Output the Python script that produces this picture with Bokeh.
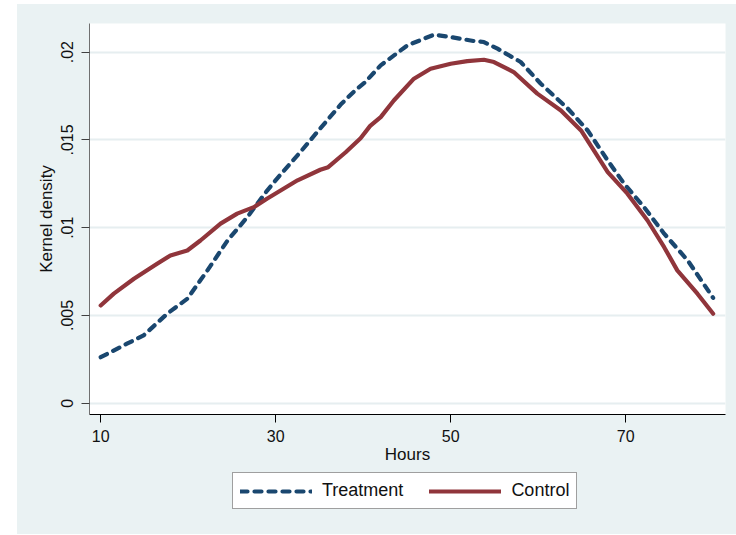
from bokeh.plotting import figure
from bokeh.models import Legend, LegendItem, Range1d, FixedTicker, Spacer
from bokeh.layouts import row, column
from bokeh.embed import file_html
from bokeh.resources import INLINE

# ---- data ----
treat_hours = [10.0, 13.0, 14.9, 17.6, 19.9, 22.2, 24.5, 26.75, 29.0, 30.5, 32.8, 35.1,
               37.4, 39.1, 40.2, 42.0, 45.06, 48.1, 50.0, 52.7, 53.8, 55.35, 58.0, 60.3,
               63.4, 65.66, 67.95, 69.84, 72.1, 74.4, 77.1, 80.0]
treat_density = [0.00262, 0.00339, 0.00386, 0.0051, 0.00595, 0.00757, 0.00927, 0.0106,
                 0.0121, 0.0130, 0.0143, 0.01566, 0.0170, 0.01783, 0.01828, 0.01925,
                 0.02039, 0.0210, 0.02086, 0.02063, 0.02058, 0.0202, 0.01944, 0.0182,
                 0.01678, 0.01554, 0.01383, 0.0125, 0.01117, 0.00966, 0.00813, 0.0060]

ctrl_hours = [10.0, 11.5, 13.8, 16.45, 17.97, 19.9, 21.4, 23.7, 25.6, 27.5, 29.0, 32.5,
              35.1, 36.0, 38.0, 39.7, 40.8, 42.0, 43.5, 45.8, 47.7, 50.0, 51.9, 53.8,
              54.95, 57.2, 59.9, 62.6, 64.9, 67.95, 70.2, 72.5, 74.4, 75.9, 78.2, 80.0]
ctrl_density = [0.00557, 0.00624, 0.00709, 0.00795, 0.00842, 0.0087, 0.00927, 0.01023,
                0.0108, 0.01117, 0.01165, 0.0127, 0.0133, 0.01345, 0.0143, 0.0151,
                0.0158, 0.0163, 0.01725, 0.01849, 0.01906, 0.01934, 0.01949, 0.01957,
                0.01944, 0.01887, 0.01764, 0.01668, 0.01554, 0.01317, 0.01194, 0.01041,
                0.00889, 0.00757, 0.00624, 0.0051]

x_ticks = [10, 30, 50, 70]
y_ticks = [0, 0.005, 0.01, 0.015, 0.02]
y_tick_labels = ["0", ".005", ".01", ".015", ".02"]
series_labels = ["Treatment", "Control"]

FONT = "Liberation Sans"
BG = "#EAF2F3"
NAVY = "#1A476F"
MAROON = "#90353B"
TREAT_STYLE = dict(line_color=NAVY, line_width=4.2, line_dash="7 7",
                   line_cap="round", line_join="round")
CTRL_STYLE = dict(line_color=MAROON, line_width=4.2, line_cap="round", line_join="round")

# ---- main plot ----
p = figure(frame_width=636, frame_height=391, output_backend="svg", toolbar_location=None,
           x_range=Range1d(8.72, 81.41), y_range=Range1d(-0.000644, 0.021635),
           min_border_left=72, min_border_right=11, min_border_top=19, min_border_bottom=51,
           background_fill_color="white", border_fill_color=BG, outline_line_color=None)

p.line(treat_hours, treat_density, **TREAT_STYLE)
p.line(ctrl_hours, ctrl_density, **CTRL_STYLE)

p.xgrid.visible = False
p.ygrid.grid_line_color = "#E6EEF0"
p.ygrid.grid_line_width = 2
p.ygrid.ticker = FixedTicker(ticks=y_ticks)

p.xaxis.ticker = FixedTicker(ticks=x_ticks)
p.yaxis.ticker = FixedTicker(ticks=y_ticks)
p.yaxis.major_label_overrides = {t: l for t, l in zip(y_ticks, y_tick_labels)}
p.yaxis.major_label_orientation = "vertical"

for ax in (p.xaxis[0], p.yaxis[0]):
    ax.major_tick_out = 8
    ax.major_tick_in = 0
    ax.minor_tick_line_color = None
    ax.major_label_text_font = FONT
    ax.major_label_text_font_size = "16px"
    ax.major_label_text_color = "#111111"
    ax.axis_label_text_font = FONT
    ax.axis_label_text_font_size = "17px"
    ax.axis_label_text_font_style = "normal"
    ax.axis_label_text_color = "#111111"

p.xaxis.major_label_standoff = 7
p.yaxis.major_label_standoff = 8
p.xaxis.axis_line_color = "black"
p.xaxis.major_tick_line_color = "black"
p.yaxis.axis_line_color = "#707070"
p.yaxis.major_tick_line_color = "#404040"
p.xaxis.axis_label = "Hours"
p.yaxis.axis_label = "Kernel density"
p.xaxis.axis_label_standoff = 0
p.yaxis.axis_label_standoff = 3

# ---- legend strip (separate figure so the legend box is not clipped) ----
p2 = figure(width=719, height=68, output_backend="svg", toolbar_location=None,
            x_range=Range1d(0, 1), y_range=Range1d(0, 1),
            x_axis_location=None, y_axis_location=None, min_border=0,
            background_fill_color=BG, border_fill_color=BG, outline_line_color=None)
p2.grid.visible = False
# proxy lines that lie outside the visible range; they only feed the legend
l1 = p2.line([-5, -4], [-5, -4], **TREAT_STYLE)
l2 = p2.line([-5, -4], [-5, -4], **CTRL_STYLE)

legend = Legend(items=[LegendItem(label=series_labels[0], renderers=[l1]),
                       LegendItem(label=series_labels[1], renderers=[l2])],
                orientation="horizontal", location=(143, 25),
                glyph_width=72, glyph_height=20, label_standoff=10, spacing=26,
                padding=7, margin=0, border_line_color="#404040", border_line_width=1,
                background_fill_color="white", background_fill_alpha=1.0,
                label_text_font=FONT, label_text_font_size="18px", label_text_color="#111111")
p2.add_layout(legend, "center")

panel = column(p, p2, styles={"background-color": BG})
layout = column(Spacer(height=4), row(Spacer(width=17), panel))
open("out.html", "w").write(file_html(layout, INLINE))
